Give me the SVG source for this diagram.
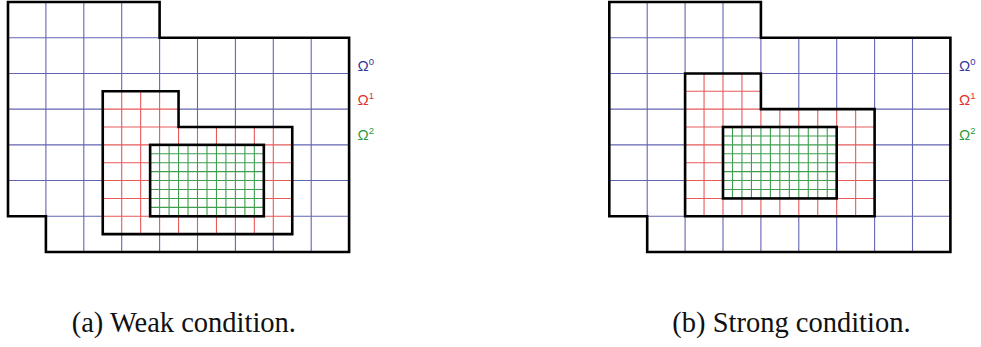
<svg xmlns="http://www.w3.org/2000/svg" xmlns:xlink="http://www.w3.org/1999/xlink" width="981" height="347" viewBox="0 0 981 347">
<style>
.bg{fill:#ffffff}
.blue{fill:none;stroke:#6464b4;stroke-width:1.1}
.red{fill:none;stroke:#e65a5a;stroke-width:1.1}
.green{fill:none;stroke:#3e9e4e;stroke-width:1.1}
.edge{fill:none;stroke:#000;stroke-width:2.6;stroke-linejoin:miter}
.fillw{fill:#fff;stroke:none}
.lab{font-family:"Liberation Sans",Arial,sans-serif;font-size:15px}
.sup{font-size:9.5px}
.cap{font-family:"Liberation Serif","Times New Roman",serif;font-size:28.5px;fill:#111}
</style>
<defs>
<clipPath id="clipOuter"><polygon points="8,2 159.6,2 159.6,37.71 349.1,37.71 349.1,252 45.9,252 45.9,216.29 8,216.29"/></clipPath>
<clipPath id="clipRedA"><polygon points="102.75,91.28 178.55,91.28 178.55,127 292.25,127 292.25,234.14 102.75,234.14"/></clipPath>
<clipPath id="clipRedB"><polygon points="83.8,73.43 159.6,73.43 159.6,109.14 273.3,109.14 273.3,216.29 83.8,216.29"/></clipPath>
<g id="outerGrid">
<path class="blue" clip-path="url(#clipOuter)" d="M45.9,2V252M83.8,2V252M121.7,2V252M159.6,2V252M197.5,2V252M235.4,2V252M273.3,2V252M311.2,2V252M8,37.71H349.1M8,73.43H349.1M8,109.14H349.1M8,144.86H349.1M8,180.57H349.1M8,216.29H349.1"/>
</g>
<polygon id="outerEdge" class="edge" points="8,2 159.6,2 159.6,37.71 349.1,37.71 349.1,252 45.9,252 45.9,216.29 8,216.29"/>
</defs>
<rect class="bg" x="0" y="0" width="981" height="347"/>

<g id="diagram-a">
<g id="omega0-a"><use xlink:href="#outerGrid"/></g>
<g id="omega1-a">
<polygon class="fillw" points="102.75,91.28 178.55,91.28 178.55,127 292.25,127 292.25,234.14 102.75,234.14"/>
<path class="red" clip-path="url(#clipRedA)" d="M121.7,91V235M140.65,91V235M159.6,91V235M178.55,91V235M197.5,91V235M216.45,91V235M235.4,91V235M254.35,91V235M273.3,91V235M102,109.14H293M102,127H293M102,144.86H293M102,162.71H293M102,180.57H293M102,198.43H293M102,216.29H293"/>
</g>
<g id="omega2-a">
<rect class="fillw" x="150.13" y="144.86" width="113.7" height="71.43"/>
<path class="green" d="M159.6,144.86V216.29M169.08,144.86V216.29M178.55,144.86V216.29M188.03,144.86V216.29M197.5,144.86V216.29M206.98,144.86V216.29M216.45,144.86V216.29M225.93,144.86V216.29M235.4,144.86V216.29M244.88,144.86V216.29M254.35,144.86V216.29M150.13,153.79H263.83M150.13,162.71H263.83M150.13,171.64H263.83M150.13,180.57H263.83M150.13,189.5H263.83M150.13,198.43H263.83M150.13,207.36H263.83"/>
</g>
<g id="edges-a">
<use xlink:href="#outerEdge"/>
<polygon class="edge" points="102.75,91.28 178.55,91.28 178.55,127 292.25,127 292.25,234.14 102.75,234.14"/>
<rect class="edge" x="150.13" y="144.86" width="113.7" height="71.43"/>
</g>
<g id="labels-a" class="lab">
<text x="357.5" y="71" fill="#34349c">Ω<tspan class="sup" dy="-6">0</tspan></text>
<text x="357.5" y="105" fill="#e0302c">Ω<tspan class="sup" dy="-6">1</tspan></text>
<text x="357.5" y="140" fill="#2e9a40">Ω<tspan class="sup" dy="-6">2</tspan></text>
</g>
<text class="cap" x="71.7" y="331.7">(a) Weak condition.</text>
</g>

<g id="diagram-b">
<g transform="translate(601.3,0)">
<g id="omega0-b"><use xlink:href="#outerGrid"/></g>
<g id="omega1-b">
<polygon class="fillw" points="83.8,73.43 159.6,73.43 159.6,109.14 273.3,109.14 273.3,216.29 83.8,216.29"/>
<path class="red" clip-path="url(#clipRedB)" d="M102.75,73V217M121.7,73V217M140.65,73V217M159.6,73V217M178.55,73V217M197.5,73V217M216.45,73V217M235.4,73V217M254.35,73V217M83,91.28H274M83,109.14H274M83,127H274M83,144.86H274M83,162.71H274M83,180.57H274M83,198.43H274"/>
</g>
<g id="omega2-b">
<rect class="fillw" x="121.7" y="127" width="113.7" height="71.43"/>
<path class="green" d="M131.18,127V198.43M140.65,127V198.43M150.13,127V198.43M159.6,127V198.43M169.08,127V198.43M178.55,127V198.43M188.03,127V198.43M197.5,127V198.43M206.98,127V198.43M216.45,127V198.43M225.93,127V198.43M121.7,135.93H235.4M121.7,144.86H235.4M121.7,153.79H235.4M121.7,162.71H235.4M121.7,171.64H235.4M121.7,180.57H235.4M121.7,189.5H235.4"/>
</g>
<g id="edges-b">
<use xlink:href="#outerEdge"/>
<polygon class="edge" points="83.8,73.43 159.6,73.43 159.6,109.14 273.3,109.14 273.3,216.29 83.8,216.29"/>
<rect class="edge" x="121.7" y="127" width="113.7" height="71.43"/>
</g>
</g>
<g id="labels-b" class="lab">
<text x="959" y="71" fill="#34349c">Ω<tspan class="sup" dy="-6">0</tspan></text>
<text x="959" y="105" fill="#e0302c">Ω<tspan class="sup" dy="-6">1</tspan></text>
<text x="959" y="140" fill="#2e9a40">Ω<tspan class="sup" dy="-6">2</tspan></text>
</g>
<text class="cap" x="672.3" y="331.7">(b) Strong condition.</text>
</g>
</svg>
